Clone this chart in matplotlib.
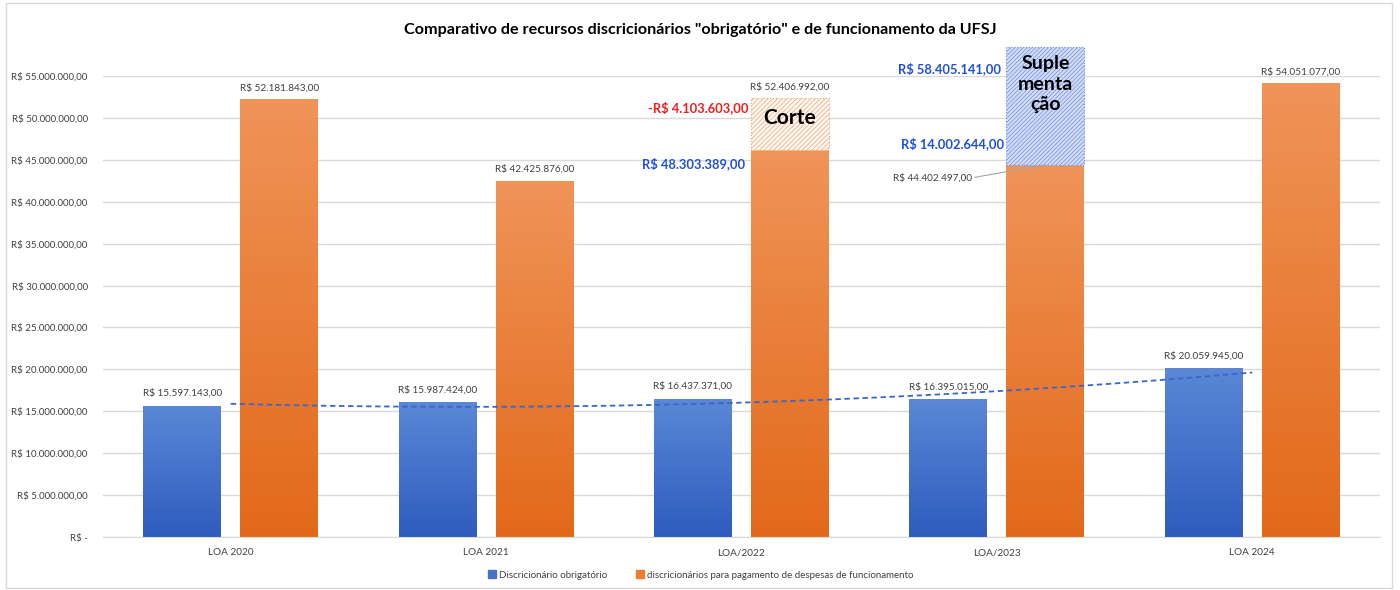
import numpy as np
import matplotlib
matplotlib.use("Agg")
import matplotlib.pyplot as plt
from matplotlib.patches import Rectangle
from matplotlib.lines import Line2D
from matplotlib.colors import LinearSegmentedColormap

# ---------------- data ----------------
categories = ["LOA 2020", "LOA 2021", "LOA/2022", "LOA/2023", "LOA 2024"]
obrigatorio = [15597143, 15987424, 16437371, 16395015, 20059945]
funcionamento = [52181843, 42425876, 46150000, 44402497, 54051077]
funcionamento_labels = [52181843, 42425876, 52406992, 44402497, 54051077]
corte_idx = 2
corte_loa = 52406992
corte_valor = -4103603
corte_liquido = 48303389
supl_idx = 3
supl_valor = 14002644
supl_total = 58405141
series_names = ["Discricionário obrigatório",
                "discricionários para pagamento de despesas de funcionamento"]
yticks = list(range(0, 55000001, 5000000))
title = 'Comparativo de recursos discricionários "obrigatório" e de funcionamento da UFSJ'

plt.rcParams['font.family'] = ['Lato', 'DejaVu Sans']
plt.rcParams['hatch.linewidth'] = 0.5


def brl(v):
    s = f"{abs(v):,.2f}".replace(",", "X").replace(".", ",").replace("X", ".")
    return ("-" if v < 0 else "") + "R$ " + s


def tick_fmt(v):
    return "R$ -" if v == 0 else brl(v)


fig = plt.figure(figsize=(14, 5.9), dpi=100)
ax = fig.add_axes([103 / 1400, 53 / 590, 1277 / 1400, 461 / 590])

x = np.arange(len(categories))
w = 0.305
off = 0.19

blue_top, blue_bot = "#5B87D6", "#2E5CBE"
orn_top, orn_bot = "#F09458", "#E2691A"

bars_b = ax.bar(x - off, obrigatorio, w, color="#4472C4", zorder=2)
bars_o = ax.bar(x + off, funcionamento, w, color="#ED7D31", zorder=2)


def gradient(rect, ctop, cbot):
    x0, y0 = rect.get_xy()
    cmap = LinearSegmentedColormap.from_list("g", [cbot, ctop])
    arr = np.linspace(1, 0, 256).reshape(-1, 1)
    ax.imshow(arr, extent=[x0, x0 + rect.get_width(), y0, y0 + rect.get_height()],
              aspect="auto", cmap=cmap, origin="upper", zorder=2.1,
              interpolation="bicubic")


for r in bars_b:
    gradient(r, blue_top, blue_bot)
for r in bars_o:
    gradient(r, orn_top, orn_bot)

ax.set_xlim(-0.5, len(categories) - 0.5)
ax.set_ylim(0, 55000000)

# hatched boxes
cx = corte_idx + off
ax.add_patch(Rectangle((cx - w / 2, funcionamento[corte_idx]), w,
                       corte_loa - funcionamento[corte_idx],
                       facecolor="#FFF8F3", edgecolor="#F2A26A", hatch="///////",
                       lw=0.8, ls=":", zorder=3, clip_on=False))
sx = supl_idx + off
ax.add_patch(Rectangle((sx - w / 2, funcionamento[supl_idx]), w, supl_valor,
                       facecolor="#D3DDF6", edgecolor="#6F8CE0", hatch="////////",
                       lw=0.8, ls=":", zorder=3, clip_on=False))

ax.annotate("Corte", xy=(cx, (funcionamento[corte_idx] + corte_loa) / 2),
            xytext=(0, 6), textcoords="offset pixels", ha="center", va="center",
            fontsize=15, fontweight="bold", color="black", zorder=5,
            annotation_clip=False)
ax.annotate("Suple\nmenta\nção", xy=(sx, funcionamento[supl_idx] + supl_valor),
            xytext=(0, -37), textcoords="offset pixels", ha="center", va="center",
            fontsize=14, fontweight="bold", color="black", linespacing=1.25,
            zorder=5, annotation_clip=False)

# value labels
lab_kw = dict(textcoords="offset pixels", ha="center", va="center",
              fontsize=7.2, color="#404040", annotation_clip=False, zorder=5)
for xi, v in zip(x, obrigatorio):
    ax.annotate(brl(v), (xi - off, v), xytext=(0, 13), **lab_kw)
for i, (xi, v, lv) in enumerate(zip(x, funcionamento, funcionamento_labels)):
    if i == corte_idx:
        ax.annotate(brl(lv), (xi + off, corte_loa), xytext=(0, 11), **lab_kw)
    elif i == supl_idx:
        ax.annotate(brl(lv), (xi + off, v), xytext=(-113, -13),
                    arrowprops=dict(arrowstyle="-", color="#A6A6A6", lw=0.8,
                                    shrinkA=0, shrinkB=0, relpos=(1, 0.5)),
                    **lab_kw)
    else:
        ax.annotate(brl(lv), (xi + off, v), xytext=(0, 12), **lab_kw)

bold_kw = dict(textcoords="offset pixels", ha="right", va="center",
               fontsize=9.3, fontweight="bold", annotation_clip=False, zorder=5)
blue_txt = "#2050D8"
ax.annotate(brl(corte_liquido), (cx - w / 2, funcionamento[corte_idx]),
            xytext=(-6, -13), color=blue_txt, **bold_kw)
ax.annotate(brl(corte_valor), (cx - w / 2, corte_loa),
            xytext=(-3, -10), color="#F01E1E", **bold_kw)
ax.annotate(brl(supl_total), (sx - w / 2, supl_total),
            xytext=(-5, -21), color=blue_txt, **bold_kw)
ax.annotate(brl(supl_valor), (sx - w / 2, funcionamento[supl_idx]),
            xytext=(-2, 21), color=blue_txt, **bold_kw)

# polynomial trendline
coef = np.polyfit(x, obrigatorio, 2)
xs = np.linspace(x[0], x[-1], 200)
ax.plot(xs, np.polyval(coef, xs), ls=(0, (3, 2)), color="#3A66C8", lw=1.3, zorder=4)

# axes styling
ax.set_yticks(yticks)
ax.set_yticklabels([tick_fmt(v) for v in yticks], fontsize=7, color="#404040")
ax.set_xticks(x)
ax.set_xticklabels(categories, fontsize=7.2, color="#404040")
ax.tick_params(axis="both", length=0)
ax.tick_params(axis="y", pad=11)
ax.tick_params(axis="x", pad=8)
ax.yaxis.grid(True, color="#D9D9D9", lw=1)
ax.set_axisbelow(True)
for s in ["left", "right", "top"]:
    ax.spines[s].set_visible(False)
ax.spines["bottom"].set_color("#D9D9D9")

fig.text(0.5, 1 - 30 / 590, title, ha="center", va="center",
         fontsize=11.6, fontweight="bold", color="black")

handles = [Line2D([], [], marker="s", ls="none", color="#4472C4", markersize=5.5),
           Line2D([], [], marker="s", ls="none", color="#ED7D31", markersize=5.5)]
fig.legend(handles, series_names, loc="center",
           bbox_to_anchor=(701 / 1400, 1 - 575 / 590), ncol=2, frameon=False,
           fontsize=7, handlelength=0.8, handletextpad=0.3, columnspacing=3,
           labelcolor="#404040")

fig.add_artist(Rectangle((6 / 1400, 2 / 590), 1386 / 1400, 585 / 590,
                         transform=fig.transFigure, fill=False,
                         edgecolor="#D9D9D9", lw=1))

fig.savefig("out.png", dpi=100)
